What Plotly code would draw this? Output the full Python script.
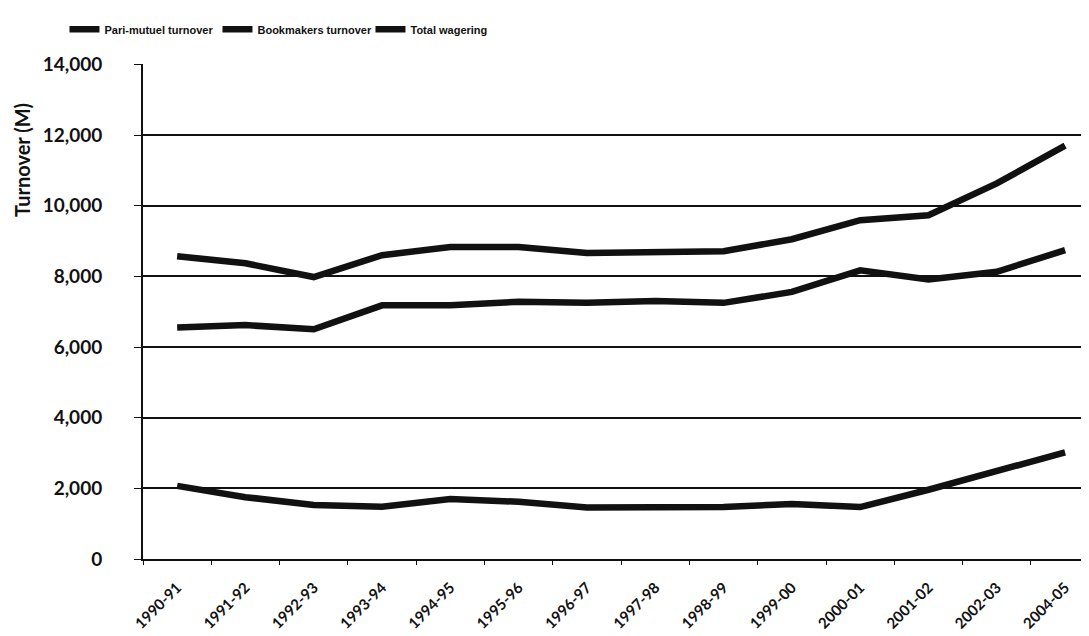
import plotly.graph_objects as go

years = ["1990-91", "1991-92", "1992-93", "1993-94", "1994-95", "1995-96", "1996-97",
         "1997-98", "1998-99", "1999-00", "2000-01", "2001-02", "2002-03", "2004-05"]
pari_mutuel = [2070, 1750, 1530, 1480, 1700, 1620, 1460, 1460, 1470, 1560, 1470, 1960, 2480, 3020]
bookmakers = [6550, 6620, 6500, 7180, 7180, 7280, 7250, 7300, 7250, 7560, 8170, 7910, 8130, 8740]
total_wagering = [8570, 8370, 7980, 8600, 8830, 8830, 8660, 8690, 8710, 9050, 9590, 9730, 10630, 11700]

series_names = ["Pari-mutuel turnover", "Bookmakers turnover", "Total wagering"]
y_ticks = [0, 2000, 4000, 6000, 8000, 10000, 12000, 14000]
y_tick_text = ["0", "2,000", "4,000", "6,000", "8,000", "10,000", "12,000", "14,000"]

fig = go.Figure()
for name, vals in zip(series_names, [pari_mutuel, bookmakers, total_wagering]):
    fig.add_trace(go.Scatter(x=years, y=vals, mode="lines", name=name,
                             line=dict(color="#111111", width=6.5)))

tick_font = dict(family="Lato, Open Sans, sans-serif", size=19, color="#111111", weight="bold")

# page body has an 8px margin, so the figure is sized to fit the 1089x636 window
fig.update_layout(
    width=1081, height=628,
    paper_bgcolor="white", plot_bgcolor="white",
    margin=dict(l=135, r=0, t=56, b=77, autoexpand=False),
    showlegend=True,
    legend=dict(orientation="h", x=-0.083, xanchor="left", y=1.07, yanchor="middle",
                font=dict(family="Liberation Sans Narrow, Arial Narrow, sans-serif", size=11,
                          color="#111111", weight="bold"),
                entrywidth=108, itemwidth=30, bgcolor="rgba(0,0,0,0)"),
    xaxis=dict(type="category", range=[-0.5, 13.35], showgrid=False,
               showline=True, linecolor="#111111", linewidth=2,
               ticks="outside", tickson="boundaries", ticklen=4, tickcolor="#111111",
               tickangle=-45, ticklabelstandoff=12,
               tickfont=dict(family="Lato, Open Sans, sans-serif", size=15, color="#111111", weight="bold")),
    yaxis=dict(range=[0, 14010], tickvals=y_ticks, ticktext=y_tick_text,
               showgrid=True, gridcolor="#111111", gridwidth=1.5,
               showline=True, linecolor="#111111", linewidth=2,
               ticks="outside", ticklen=7, tickcolor="#111111", ticklabelstandoff=28,
               tickfont=tick_font, zeroline=False),
)

fig.add_annotation(text="Turnover (M)", xref="paper", yref="paper",
                   x=-0.128, y=0.806, textangle=-90, showarrow=False,
                   xanchor="center", yanchor="middle",
                   font=dict(family="Lato, Open Sans, sans-serif", size=20, color="#111111", weight="bold"))

fig.write_html("out.html")
